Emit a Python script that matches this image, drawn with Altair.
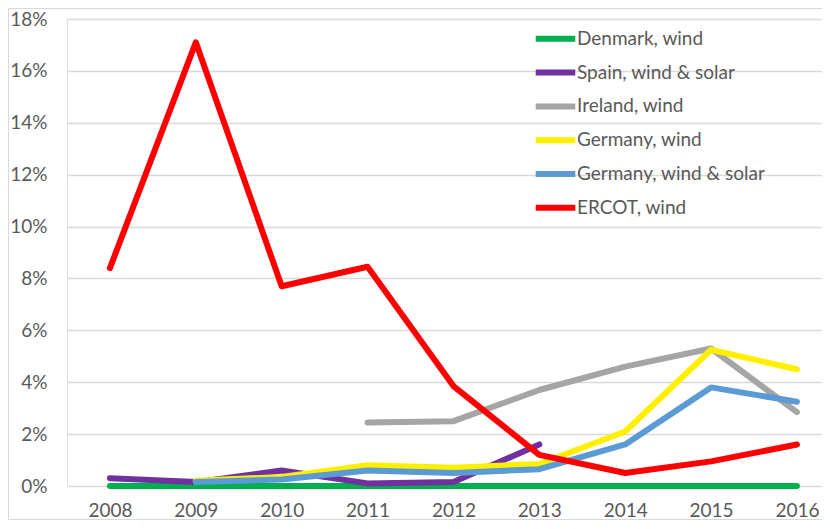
import altair as alt
import pandas as pd

years = [2008, 2009, 2010, 2011, 2012, 2013, 2014, 2015, 2016]
series_names = ["Denmark, wind", "Spain, wind & solar", "Ireland, wind",
                "Germany, wind", "Germany, wind & solar", "ERCOT, wind"]
colors = ["#00b050", "#7030a0", "#a5a5a5", "#ffef00", "#5b9bd5", "#ff0000"]

nan = None
denmark_wind = [0.0, 0.0, 0.0, 0.0, 0.0, 0.0, 0.0, 0.0, 0.0]
spain_wind_solar = [0.3, 0.15, 0.6, 0.1, 0.15, 1.6, nan, nan, nan]
ireland_wind = [nan, nan, nan, 2.45, 2.5, 3.7, 4.6, 5.3, 2.85]
germany_wind = [nan, 0.2, 0.35, 0.8, 0.7, 0.85, 2.1, 5.25, 4.5]
germany_wind_solar = [nan, 0.15, 0.25, 0.6, 0.5, 0.65, 1.6, 3.8, 3.25]
ercot_wind = [8.4, 17.1, 7.7, 8.45, 3.85, 1.2, 0.5, 0.95, 1.6]

all_series = [denmark_wind, spain_wind_solar, ireland_wind,
              germany_wind, germany_wind_solar, ercot_wind]

rows = []
for order, (name, vals) in enumerate(zip(series_names, all_series)):
    for y, v in zip(years, vals):
        if v is not None:
            rows.append({"year": y, "value": v, "series": name, "order": order})
df = pd.DataFrame(rows)

FONT = "Lato"
FS = 19
W, H = 755, 467

lines = alt.Chart(df).mark_line(strokeWidth=6, strokeCap="round", strokeJoin="round").encode(
    x=alt.X("year:Q", title=None,
            scale=alt.Scale(domain=[2007.5, 2007.5 + W / 85.875], nice=False, zero=False),
            axis=alt.Axis(values=years, format="d", grid=False, domain=False, ticks=False,
                          labelFontSize=FS, labelColor="#595959", labelPadding=15,
                          labelFont=FONT)),
    y=alt.Y("value:Q", title=None,
            scale=alt.Scale(domain=[0, 18], nice=False),
            axis=alt.Axis(values=list(range(0, 19, 2)), labelExpr="datum.value + '%'",
                          grid=True, gridColor="#d9d9d9", gridWidth=1.3, domain=False,
                          ticks=False, labelFontSize=FS, labelColor="#595959",
                          labelPadding=20, labelFont=FONT)),
    color=alt.Color("series:N", title=None,
                    scale=alt.Scale(domain=series_names, range=colors),
                    legend=alt.Legend(orient="none", legendX=469, legendY=0.3, padding=0,
                                      symbolType="M-1.2,0H1.2", symbolSize=1089,
                                      symbolStrokeWidth=6, rowPadding=1.8,
                                      labelFontSize=FS, labelColor="#595959",
                                      labelFont=FONT, labelOffset=2,
                                      labelLimit=400)),
    order=alt.Order("order:Q"),
    detail="series:N",
)

frame = alt.Chart(pd.DataFrame({"a": [0]})).mark_rect(
    fill=None, stroke="#d9d9d9", strokeWidth=1, clip=False
).encode(
    x=alt.value(-58.5), x2=alt.value(W + 20),
    y=alt.value(-10.5), y2=alt.value(H + 33.5),
)

chart = alt.layer(frame, lines).properties(
    width=W, height=H,
    autosize=alt.AutoSizeParams(type="none"),
    padding={"left": 59, "top": 11, "right": 0, "bottom": 34},
).configure_view(stroke=None).configure(background="white")

chart.save("out.html", embed_options={"renderer": "svg", "actions": False})
